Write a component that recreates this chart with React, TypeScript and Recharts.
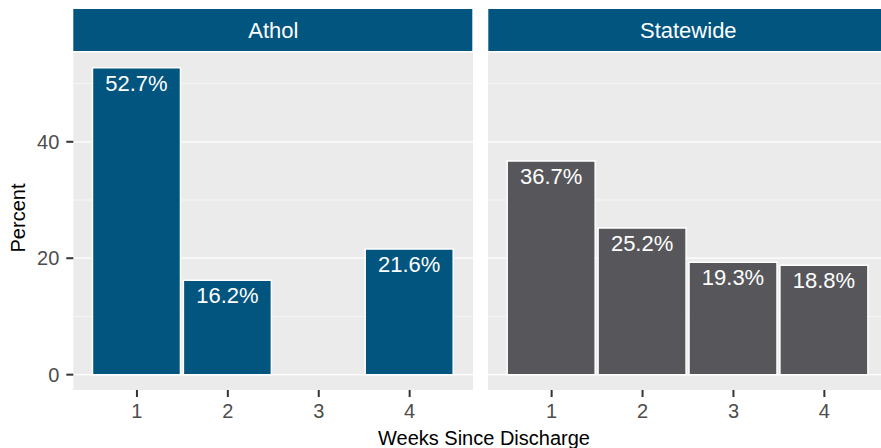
import React from "react";
import { BarChart, Bar, XAxis, YAxis, CartesianGrid, LabelList, Rectangle } from "recharts";

// Percent of discharges by week, per facet
const WEEKS = [1, 2, 3, 4];
const ATHOL = [52.7, 16.2, null, 21.6];
const STATEWIDE = [36.7, 25.2, 19.3, 18.8];
const FACETS = ["Athol", "Statewide"];
const Y_TICKS = [0, 20, 40];
const Y_MINOR = [10, 30, 50];

const W = 881;
const H = 448;
const PLOT_TOP = 52.5;
const PLOT_BOTTOM = 390;
const LEFT_X = 73.3;
const RIGHT_X = 488.3;
const PANEL_W = 400;

const BLUE = "#01557F";
const GREY = "#57575B";
const FONT = "'Liberation Sans', Arial, Helvetica, sans-serif";
const TICK = { fontSize: 20, fill: "#4D4D4D", fontFamily: FONT };
const Y_DOMAIN: [number, number] = [-2.635, 55.335];

const toRows = (vals: (number | null)[]) => WEEKS.map((w, i) => ({ week: w, pct: vals[i] }));

const barShape = (props: any) => {
  if (props.payload?.pct == null) return <g />;
  return <Rectangle {...props} />;
};

const barLabel = (props: any) => {
  const { x, y, width, value } = props;
  if (value == null) return null;
  return (
    <text x={x + width / 2} y={y + 23} textAnchor="middle" fill="#fff" fontSize={22} fontFamily={FONT}>
      {`${Number(value).toFixed(1)}%`}
    </text>
  );
};

function Panel({ values, color, showY }: { values: (number | null)[]; color: string; showY: boolean }) {
  const width = showY ? LEFT_X + PANEL_W : PANEL_W;
  return (
    <BarChart
      width={width}
      height={H}
      data={toRows(values)}
      margin={{ top: PLOT_TOP, right: 0, bottom: 0, left: 0 }}
    >
      <CartesianGrid vertical={false} fill="#EBEBEB" stroke="#fff" strokeWidth={0.6} horizontalValues={Y_MINOR} />
      <CartesianGrid vertical={false} stroke="#fff" strokeWidth={1.3} horizontalValues={Y_TICKS} />
      <XAxis
        dataKey="week"
        type="number"
        domain={[0.3, 4.7]}
        ticks={WEEKS}
        height={H - PLOT_BOTTOM}
        axisLine={false}
        tickSize={7}
        tickMargin={7}
        tickLine={{ stroke: "#333", strokeWidth: 2 }}
        tick={TICK}
        interval={0}
      />
      <YAxis
        hide={!showY}
        width={showY ? LEFT_X : 0}
        domain={Y_DOMAIN}
        ticks={Y_TICKS}
        allowDataOverflow
        axisLine={false}
        tickSize={7}
        tickMargin={7}
        tickLine={{ stroke: "#333", strokeWidth: 2 }}
        tick={TICK}
      />
      <Bar dataKey="pct" fill={color} stroke="#fff" strokeWidth={1.5} barSize={88} shape={barShape} isAnimationActive={false}>
        <LabelList dataKey="pct" content={barLabel} />
      </Bar>
    </BarChart>
  );
}

export default function App() {
  const strips = [LEFT_X, RIGHT_X];
  return (
    <div style={{ position: "fixed", left: 0, top: 0, width: W, height: H, overflow: "hidden", background: "#fff" }}>
      <div style={{ position: "absolute", left: 0, top: 0 }}>
        <Panel values={ATHOL} color={BLUE} showY />
      </div>
      <div style={{ position: "absolute", left: RIGHT_X, top: 0 }}>
        <Panel values={STATEWIDE} color={GREY} showY={false} />
      </div>
      <svg width={W} height={H} style={{ position: "absolute", left: 0, top: 0, pointerEvents: "none" }}>
        {strips.map((x, i) => (
          <g key={FACETS[i]}>
            <rect x={x} y={9} width={PANEL_W - 1} height={42} fill={BLUE} />
            <text x={x + PANEL_W / 2} y={37.7} textAnchor="middle" fill="#fff" fontSize={22} fontFamily={FONT}>
              {FACETS[i]}
            </text>
          </g>
        ))}
        <text x={484} y={444.5} textAnchor="middle" fill="#000" fontSize={20} fontFamily={FONT}>
          Weeks Since Discharge
        </text>
        <text
          x={0}
          y={0}
          transform="translate(25,218) rotate(-90)"
          textAnchor="middle"
          fill="#000"
          fontSize={20}
          fontFamily={FONT}
        >
          Percent
        </text>
      </svg>
    </div>
  );
}
